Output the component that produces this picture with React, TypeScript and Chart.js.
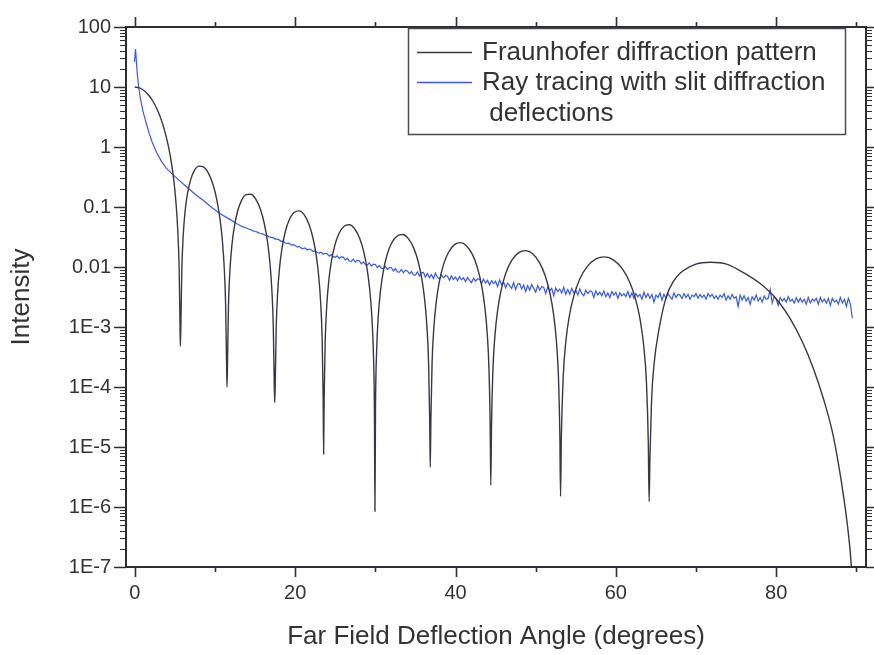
import React, { useEffect, useRef } from 'react';
import { Chart, registerables } from 'chart.js';

Chart.register(...registerables);

// ---------- data ----------
// Fraunhofer diffraction pattern (angle in degrees, intensity)
const fraunhoferAngle = [
  0, 0.57, 1.14, 1.71, 2.28, 2.85, 3.42, 3.99, 4.45, 4.85, 5.13, 5.36, 5.53, 5.64, 5.68,
  5.74, 5.86, 6.03, 6.26, 6.55, 6.96, 7.42, 8.0, 8.6, 9.18, 9.76, 10.224, 10.63, 10.92, 11.152, 11.326, 11.442, 11.5,
  11.56, 11.679, 11.857, 12.095, 12.393, 12.809, 13.285, 13.88, 14.475, 15.07, 15.665, 16.141, 16.558, 16.855, 17.093, 17.272, 17.39, 17.45,
  17.511, 17.633, 17.816, 18.06, 18.365, 18.792, 19.28, 19.89, 20.5, 21.11, 21.72, 22.208, 22.635, 22.94, 23.184, 23.367, 23.489, 23.55,
  23.614, 23.742, 23.934, 24.19, 24.51, 24.958, 25.47, 26.11, 26.75, 27.39, 28.03, 28.542, 28.99, 29.31, 29.566, 29.758, 29.886, 29.95,
  30.019, 30.157, 30.364, 30.64, 30.985, 31.468, 32.02, 32.71, 33.4, 34.09, 34.78, 35.332, 35.815, 36.16, 36.436, 36.643, 36.781, 36.85,
  36.926, 37.077, 37.303, 37.605, 37.983, 38.511, 39.115, 39.87, 40.625, 41.38, 42.135, 42.739, 43.268, 43.645, 43.947, 44.174, 44.325, 44.4,
  44.487, 44.661, 44.922, 45.27, 45.705, 46.314, 47.01, 47.88, 48.75, 49.62, 50.49, 51.186, 51.795, 52.23, 52.578, 52.839, 53.013, 53.1,
  53.21, 53.432, 53.763, 54.205, 54.758, 55.531, 56.415, 57.52, 58.625, 59.73, 60.835, 61.719, 62.493, 63.045, 63.487, 63.819, 64.04, 64.15,
  64.25, 64.45, 64.75, 65.4, 66.33, 67.2, 68.07, 70.0, 71.85, 73.8, 75.96, 78.0, 80.05, 81.7, 83.23, 84.6, 85.95, 87.0, 87.8, 88.4, 88.87, 89.36, 89.8,
];
const fraunhoferIntensity = [
  10, 9.68, 8.75, 7.37, 5.73, 4.05, 2.55, 1.35, 0.676, 0.289, 0.12, 0.04, 0.0095, 0.00102, 4.8e-4,
  0.001006, 0.00867, 0.03247, 0.08204, 0.1619, 0.2835, 0.4025, 0.4796, 0.4619, 0.3672, 0.2354, 0.1332, 0.06253, 0.02749, 0.009695, 0.00237, 2.59e-4, 1.0e-4,
  2.495e-4, 0.002193, 0.008444, 0.02211, 0.0455, 0.0841, 0.1263, 0.1603, 0.1633, 0.1366, 0.09167, 0.05363, 0.0259, 0.0116, 0.004145, 0.001024, 1.127e-4, 5.5e-5,
  1.072e-4, 9.52e-4, 0.003721, 0.009927, 0.0209, 0.03983, 0.06184, 0.08162, 0.08627, 0.07468, 0.05177, 0.03104, 0.0153, 0.006948, 0.002514, 6.26e-4, 6.93e-5, 7.6e-6,
  6.28e-5, 5.58e-4, 0.002181, 0.005819, 0.01225, 0.02335, 0.03625, 0.04785, 0.05057, 0.04378, 0.03035, 0.0182, 0.008971, 0.004073, 0.001474, 3.67e-4, 4.06e-5, 8.5e-7,
  4.31e-5, 3.83e-4, 0.001497, 0.003994, 0.008407, 0.01602, 0.02488, 0.03284, 0.03471, 0.03004, 0.02083, 0.01249, 0.006157, 0.002795, 0.001012, 2.52e-4, 2.79e-5, 4.6e-6,
  2.83e-5, 2.52e-4, 9.93e-4, 0.002675, 0.005702, 0.01105, 0.01747, 0.02357, 0.02545, 0.02248, 0.0159, 0.009682, 0.004835, 0.002217, 8.08e-4, 2.02e-4, 2.24e-5, 2.3e-6,
  2.08e-5, 1.86e-4, 7.32e-4, 0.001972, 0.004204, 0.008144, 0.01288, 0.01738, 0.01876, 0.01658, 0.01172, 0.007138, 0.003564, 0.001634, 5.95e-4, 1.49e-4, 1.65e-5, 1.5e-6,
  1.64e-5, 1.465e-4, 5.77e-4, 0.001553, 0.003309, 0.006411, 0.01014, 0.01368, 0.01477, 0.01305, 0.009226, 0.00562, 0.002806, 0.001287, 4.69e-4, 1.17e-4, 1.3e-5, 1.23e-6,
  6.5e-6, 5.9e-5, 2.3e-4, 9.5e-4, 0.0033, 0.0058, 0.008, 0.0112, 0.012, 0.0112, 0.008, 0.0053, 0.0029, 0.0014, 5.8e-4, 2.1e-4, 6e-5, 1.8e-5, 4.9e-6, 1.5e-6, 5.1e-7, 1.07e-7, 5e-9,
];

// Ray tracing with slit diffraction deflections: smooth head, then noisy tail
const rayHeadAngle = [-0.05, 0.09, 0.3, 0.45, 0.65, 1.0, 1.39, 1.75, 2.16, 2.7, 3.34, 3.9, 4.55, 5.5, 6.58, 7.6, 8.6, 9.6, 10.65, 11.7, 12.7, 13.4];
const rayHeadIntensity = [26, 43, 16.9, 11, 7.0, 4.0, 2.57, 1.75, 1.21, 0.82, 0.57, 0.45, 0.367, 0.28, 0.209, 0.16, 0.127, 0.098, 0.077, 0.064, 0.053, 0.047];
const rayTailStart = 14.0;
const rayTailStep = 0.25;
const rayTailIntensity = [
  // 14 - 23.75
  0.0442, 0.0426, 0.0418, 0.0400, 0.0390, 0.0384, 0.0367, 0.0362,
  0.0353, 0.0338, 0.0334, 0.0318, 0.0312, 0.0308, 0.0292, 0.0291,
  0.0283, 0.0268, 0.0270, 0.0251, 0.0247, 0.0249, 0.0232, 0.0235,
  0.0229, 0.0214, 0.0221, 0.0206, 0.0203, 0.0208, 0.0192, 0.0199,
  0.0194, 0.0181, 0.0187, 0.0174, 0.0171, 0.0177, 0.0163, 0.0169,
  // 24 - 33.75
  0.0166, 0.0152, 0.0161, 0.0149, 0.0145, 0.0153, 0.0139, 0.0147,
  0.0146, 0.0131, 0.0140, 0.0126, 0.0124, 0.0135, 0.0121, 0.0129,
  0.0127, 0.0113, 0.0122, 0.0110, 0.0108, 0.0117, 0.0104, 0.0112,
  0.0110, 0.0098, 0.0106, 0.0095, 0.0094, 0.0102, 0.0091, 0.0098,
  0.0097, 0.0086, 0.0094, 0.0083, 0.0082, 0.0091, 0.0080, 0.0088,
  // 34 - 43.75
  0.0086, 0.0077, 0.0084, 0.0074, 0.0073, 0.0083, 0.0071, 0.0080,
  0.0081, 0.0068, 0.0078, 0.0066, 0.0075, 0.0064, 0.0079, 0.0067,
  0.0063, 0.0074, 0.0066, 0.0072, 0.0070, 0.0060, 0.0071, 0.0062,
  0.0068, 0.0059, 0.0069, 0.0061, 0.0066, 0.0057, 0.0067, 0.0060,
  0.0055, 0.0065, 0.0058, 0.0064, 0.0062, 0.0053, 0.0063, 0.0054,
  // 44 - 53.75
  0.0060, 0.0050, 0.0059, 0.0053, 0.0058, 0.0047, 0.0061, 0.0050,
  0.0056, 0.0045, 0.0054, 0.0049, 0.0044, 0.0055, 0.0042, 0.0052,
  0.0053, 0.0043, 0.0050, 0.0039, 0.0049, 0.0041, 0.0051, 0.0044,
  0.0038, 0.0049, 0.0041, 0.0047, 0.0046, 0.0036, 0.0047, 0.0040,
  0.0044, 0.0033, 0.0045, 0.0039, 0.0043, 0.0037, 0.0046, 0.0035,
  // 54 - 63.75
  0.0042, 0.0035, 0.0044, 0.0037, 0.0041, 0.0034, 0.0043, 0.0036,
  0.0033, 0.0041, 0.0036, 0.0040, 0.0039, 0.0031, 0.0040, 0.0034,
  0.0038, 0.0033, 0.0040, 0.0032, 0.0037, 0.0031, 0.0039, 0.0034,
  0.0038, 0.0030, 0.0037, 0.0033, 0.0036, 0.0032, 0.0039, 0.0031,
  0.0037, 0.0030, 0.0036, 0.0032, 0.0035, 0.0029, 0.0038, 0.0031,
  // 64 - 73.75
  0.0036, 0.0030, 0.0035, 0.0026, 0.0034, 0.0031, 0.0037, 0.0028,
  0.0035, 0.0030, 0.0036, 0.0032, 0.0029, 0.0037, 0.0031, 0.0035,
  0.0034, 0.0030, 0.0036, 0.0031, 0.0035, 0.0029, 0.0034, 0.0032,
  0.0036, 0.0030, 0.0035, 0.0031, 0.0034, 0.0029, 0.0036, 0.0032,
  0.0035, 0.0030, 0.0033, 0.0029, 0.0034, 0.0031, 0.0036, 0.0028,
  // 74 - 83.75
  0.0033, 0.0029, 0.0035, 0.0030, 0.0032, 0.0022, 0.0034, 0.0028,
  0.0033, 0.0027, 0.0031, 0.0024, 0.0032, 0.0028, 0.0034, 0.0027,
  0.0031, 0.0026, 0.0033, 0.0029, 0.0030, 0.0042, 0.0025, 0.0032,
  0.0029, 0.0023, 0.0031, 0.0027, 0.0030, 0.0026, 0.0032, 0.0027,
  0.0029, 0.0025, 0.0031, 0.0026, 0.0030, 0.0026, 0.0029, 0.0024,
  // 84 - 89.5
  0.0031, 0.0025, 0.0029, 0.0027, 0.0030, 0.0024, 0.0031, 0.0026,
  0.0029, 0.0025, 0.0030, 0.0023, 0.0030, 0.0026, 0.0028, 0.0024,
  0.0031, 0.0025, 0.0029, 0.0022, 0.0030, 0.0024, 0.0014,
];

// axes
const xMajorTicks = [0, 20, 40, 60, 80];
const xMinorTicks = [10, 30, 50, 70, 90];
const yDecades = [1e-7, 1e-6, 1e-5, 1e-4, 1e-3, 0.01, 0.1, 1, 10, 100];
const yTickLabels = ['1E-7', '1E-6', '1E-5', '1E-4', '1E-3', '0.01', '0.1', '1', '10', '100'];
const yMinorSteps = [2, 3, 4, 5, 6, 7, 8, 9];

const seriesLabels = ['Fraunhofer diffraction pattern', 'Ray tracing with slit diffraction deflections'];
const legendLines = [['Fraunhofer diffraction pattern'], ['Ray tracing with slit diffraction', ' deflections']];

// ---------- styles ----------
const FONT = '"Liberation Sans", Arial, Helvetica, sans-serif';
const TEXT = '#333336';
const AXIS = '#2e2e32';
const BLACK_LINE = '#3b3645';
const BLUE_LINE = '#3a5ae0';

const frameTicksPlugin = {
  id: 'frameTicks',
  afterDatasetsDraw(chart: any) {
    const { ctx, chartArea, scales } = chart;
    const { left, right, top, bottom } = chartArea;
    const xs = scales.x;
    const ys = scales.y;
    ctx.save();
    ctx.strokeStyle = AXIS;
    ctx.lineWidth = 2;
    ctx.strokeRect(left, top, right - left, bottom - top);
    ctx.lineWidth = 1.6;
    ctx.beginPath();
    const vTick = (v: number, len: number) => {
      const px = Math.round(xs.getPixelForValue(v)) + 0.5;
      ctx.moveTo(px, bottom); ctx.lineTo(px, bottom + len);
      ctx.moveTo(px, top); ctx.lineTo(px, top - len);
    };
    const hTick = (v: number, len: number) => {
      const py = Math.round(ys.getPixelForValue(v)) + 0.5;
      ctx.moveTo(left, py); ctx.lineTo(left - len, py);
      ctx.moveTo(right, py); ctx.lineTo(right + len, py);
    };
    xMajorTicks.forEach((v) => vTick(v, 10));
    xMinorTicks.forEach((v) => vTick(v, 5));
    yDecades.forEach((d) => hTick(d, 12));
    ctx.stroke();
    ctx.lineWidth = 1.2;
    ctx.beginPath();
    yDecades.slice(0, -1).forEach((d) => yMinorSteps.forEach((m) => hTick(d * m, 6)));
    ctx.stroke();
    ctx.restore();
  },
};

const boxLegendPlugin = {
  id: 'boxLegend',
  afterDraw(chart: any) {
    const { ctx } = chart;
    const datasets = chart.data.datasets;
    ctx.save();
    ctx.strokeStyle = '#4a4a50';
    ctx.lineWidth = 1.5;
    ctx.strokeRect(408.5, 28.5, 437, 106);
    ctx.font = `26px ${FONT}`;
    ctx.fillStyle = TEXT;
    ctx.textBaseline = 'alphabetic';
    const rowBaselines = [[60], [90, 121]];
    const sampleY = [52, 82];
    legendLines.forEach((lines, i) => {
      ctx.strokeStyle = datasets[i].borderColor;
      ctx.lineWidth = 1.3;
      ctx.beginPath();
      ctx.moveTo(417, sampleY[i] + 0.5);
      ctx.lineTo(472, sampleY[i] + 0.5);
      ctx.stroke();
      lines.forEach((t, j) => ctx.fillText(t, 482, rowBaselines[i][j]));
    });
    ctx.restore();
  },
};

export default function App() {
  const canvasRef = useRef<HTMLCanvasElement>(null);

  useEffect(() => {
    const fraunhofer = fraunhoferAngle.map((x, i) => ({ x, y: fraunhoferIntensity[i] }));
    const ray = [
      ...rayHeadAngle.map((x, i) => ({ x, y: rayHeadIntensity[i] })),
      ...rayTailIntensity.map((y, i) => ({ x: +(rayTailStart + i * rayTailStep).toFixed(2), y })),
    ];
    const chart = new Chart(canvasRef.current as HTMLCanvasElement, {
      type: 'line',
      data: {
        datasets: [
          {
            label: seriesLabels[0],
            data: fraunhofer,
            borderColor: BLACK_LINE,
            borderWidth: 1.4,
            pointRadius: 0,
            cubicInterpolationMode: 'monotone',
            fill: false,
          },
          {
            label: seriesLabels[1],
            data: ray,
            borderColor: BLUE_LINE,
            borderWidth: 1.2,
            pointRadius: 0,
            tension: 0,
            fill: false,
          },
        ],
      },
      options: {
        animation: false,
        responsive: false,
        devicePixelRatio: 1,
        parsing: false,
        layout: { padding: { top: 16, right: 8, left: 0, bottom: 0 } },
        plugins: { legend: { display: false }, tooltip: { enabled: false } },
        scales: {
          x: {
            type: 'linear',
            min: -1.1,
            max: 91.2,
            afterBuildTicks: (s: any) => { s.ticks = xMajorTicks.map((value) => ({ value })); },
            afterFit: (s: any) => { s.height = 88; },
            grid: { display: false, drawTicks: false },
            border: { display: false },
            ticks: {
              autoSkip: false, maxRotation: 0, padding: 14, color: TEXT,
              font: { family: FONT, size: 20 },
              callback: (v: any) => String(v),
            },
            title: {
              display: true, text: 'Far Field Deflection Angle (degrees)', color: TEXT,
              font: { family: FONT, size: 26 }, padding: { top: 0, bottom: 3 },
            },
          },
          y: {
            type: 'logarithmic',
            min: 1e-7,
            max: 100,
            afterBuildTicks: (s: any) => { s.ticks = yDecades.map((value) => ({ value, major: true })); },
            afterFit: (s: any) => { s.width = 126; },
            grid: { display: false, drawTicks: false },
            border: { display: false },
            ticks: {
              autoSkip: false, padding: 15, color: TEXT,
              font: { family: FONT, size: 20 },
              callback: (_v: any, i: number) => yTickLabels[i],
            },
            title: {
              display: true, text: 'Intensity', color: TEXT,
              font: { family: FONT, size: 26 }, padding: { top: 6, bottom: 0 },
            },
          },
        },
      },
      plugins: [frameTicksPlugin, boxLegendPlugin],
    } as any);
    return () => chart.destroy();
  }, []);

  return (
    <div style={{ position: 'absolute', left: 0, top: 0, width: 874, height: 655, background: '#ffffff' }}>
      <canvas ref={canvasRef} width={874} height={655} style={{ display: 'block', width: 874, height: 655 }} />
    </div>
  );
}
